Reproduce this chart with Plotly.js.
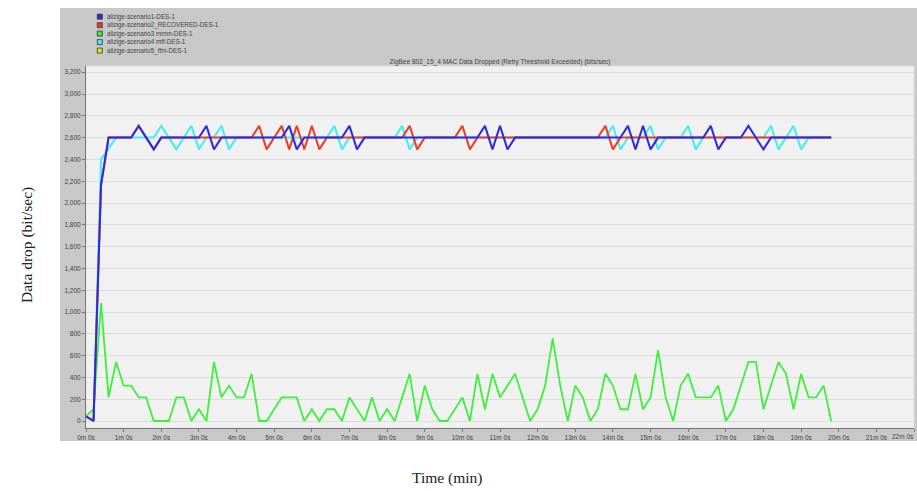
<!DOCTYPE html>
<html><head><meta charset="utf-8">
<script src="https://cdn.plot.ly/plotly-3.0.1.min.js"></script>
<style>html,body{margin:0;padding:0;background:#fff;} #chart{width:917px;height:491px;}</style>
</head><body><div id="chart"></div>
<script>
// ---- data ----
const seriesNames = ["alizige-scenario1-DES-1", "alizige-scenario2_RECOVERED-DES-1", "alizige-scenario3 mmm-DES-1", "alizige-scenario4 mff-DES-1", "alizige-scenario5_ffm-DES-1"];
const seriesColors = ["#2b2be6", "#f03c24", "#3cf03c", "#44eef0", "#e6e600"];

const timeMin = [0,0.2,0.4,0.6,0.8,1,1.2,1.4,1.6,1.8,2,2.2,2.4,2.6,2.8,3,3.2,3.4,3.6,3.8,
4,4.2,4.4,4.6,4.8,5,5.2,5.4,5.6,5.8,6,6.2,6.4,6.6,6.8,7,7.2,7.4,7.6,7.8,
8,8.2,8.4,8.6,8.8,9,9.2,9.4,9.6,9.8,10,10.2,10.4,10.6,10.8,11,11.2,11.4,11.6,11.8,
12,12.2,12.4,12.6,12.8,13,13.2,13.4,13.6,13.8,14,14.2,14.4,14.6,14.8,15,15.2,15.4,15.6,15.8,
16,16.2,16.4,16.6,16.8,17,17.2,17.4,17.6,17.8,18,18.2,18.4,18.6,18.8,19,19.2,19.4,19.6,19.8];

const scenario1 = [43,0,2167,2600,2600,2600,2600,2708,2600,2492,
2600,2600,2600,2600,2600,2600,2708,2492,2600,2600,
2600,2600,2600,2600,2600,2600,2600,2708,2492,2600,
2600,2600,2600,2600,2600,2708,2492,2600,2600,2600,
2600,2600,2600,2600,2600,2600,2600,2600,2600,2600,
2600,2600,2600,2708,2492,2708,2492,2600,2600,2600,
2600,2600,2600,2600,2600,2600,2600,2600,2600,2600,
2600,2600,2708,2492,2708,2492,2600,2600,2600,2600,
2600,2600,2600,2708,2492,2600,2600,2600,2708,2600,
2492,2600,2600,2600,2600,2600,2600,2600,2600,2600];

const scenario2 = [43,0,2167,2600,2600,2600,2600,2708,2600,2492,
2600,2600,2600,2600,2600,2600,2600,2600,2600,2600,
2600,2600,2600,2708,2492,2600,2708,2492,2708,2492,
2708,2492,2600,2600,2600,2600,2600,2600,2600,2600,
2600,2600,2600,2708,2492,2600,2600,2600,2600,2600,
2708,2492,2600,2600,2600,2600,2600,2600,2600,2600,
2600,2600,2600,2600,2600,2600,2600,2600,2600,2708,
2492,2600,2600,2600,2600,2600,2600,2600,2600,2600,
2600,2600,2600,2600,2600,2600,2600,2600,2600,2600,
2600,2600,2600,2600,2600,2600,2600,2600,2600,2600];

const scenario3 = [43,108,1083,217,542,325,325,217,217,0,
0,0,217,217,0,108,0,542,217,325,
217,217,433,0,0,108,217,217,217,0,
108,0,108,108,0,217,108,0,217,0,
108,0,217,433,0,325,108,0,0,108,
217,0,433,108,433,217,325,433,217,0,
108,325,758,325,0,325,217,0,108,433,
325,108,108,433,108,217,650,217,0,325,
433,217,217,217,325,0,108,325,542,542,
108,325,542,433,108,433,217,217,325,0];

const scenario4 = [43,0,2400,2500,2600,2600,2600,2600,2600,2600,
2708,2600,2492,2600,2708,2492,2600,2600,2708,2492,
2600,2600,2600,2600,2600,2600,2600,2600,2600,2600,
2600,2600,2600,2708,2492,2600,2600,2600,2600,2600,
2600,2600,2708,2492,2600,2600,2600,2600,2600,2600,
2600,2600,2600,2600,2600,2600,2600,2600,2600,2600,
2600,2600,2600,2600,2600,2600,2600,2600,2600,2600,
2708,2492,2600,2600,2600,2708,2492,2600,2600,2600,
2708,2492,2600,2600,2600,2600,2600,2600,2600,2600,
2600,2708,2492,2600,2708,2492,2600,2600,2600,2600];

const scenario5 = []; // not visible in the chart

const xTickVals = [0,1,2,3,4,5,6,7,8,9,10,11,12,13,14,15,16,17,18,19,20,21,22];
const xTickText = ["0m 0s","1m 0s","2m 0s","3m 0s","4m 0s","5m 0s","6m 0s","7m 0s","8m 0s","9m 0s","10m 0s","11m 0s","12m 0s","13m 0s","14m 0s","15m 0s","16m 0s","17m 0s","18m 0s","19m 0s","20m 0s","21m 0s","22m 0s"];
const yTickVals = [0,200,400,600,800,1000,1200,1400,1600,1800,2000,2200,2400,2600,2800,3000,3200];

const chartTitle = "ZigBee 802_15_4 MAC Data Dropped (Retry Threshold Exceeded) (bits/sec)";
const yTitle = "Data drop (bit/sec)";
const xTitle = "Time (min)";

// ---- layout geometry (pixels) ----
const W = 917, H = 491;
const ml = 86, mr = 3, mt = 66, mb = 63;
const pw = W - ml - mr, ph = H - mt - mb;
const px = v => (v - ml) / pw;
const py = v => (H - mb - v) / ph;

const seriesVals = [scenario1, scenario2, scenario3, scenario4, scenario5];
const drawOrder = [4, 3, 2, 1, 0]; // scenario1 on top
const traces = drawOrder.map(k => ({
  type: 'scatter', mode: 'lines',
  x: seriesVals[k].length ? timeMin.slice(0, seriesVals[k].length) : [],
  y: seriesVals[k],
  name: seriesNames[k],
  line: {color: seriesColors[k], width: k === 2 ? 1.8 : 2},
  hoverinfo: 'skip', showlegend: false
}));

const shapes = [
  {type:'rect', xref:'paper', yref:'paper', x0:px(60), x1:px(917), y0:py(441), y1:py(8), fillcolor:'#c8c8c8', line:{width:0}, layer:'below'},
  {type:'rect', xref:'paper', yref:'paper', x0:0, x1:1, y0:0, y1:1, fillcolor:'#f1f1f1', line:{color:'#dedede', width:1}, layer:'below'}
];
const annotations = [];
const legendRowsY = [16.7, 25.2, 33.6, 42.1, 50.6];
seriesNames.forEach((nm, k) => {
  const yc = legendRowsY[k];
  shapes.push({type:'rect', xref:'paper', yref:'paper', x0:px(97.3), x1:px(102.3), y0:py(yc+2.5), y1:py(yc-2.5),
    fillcolor: seriesColors[k], line:{color:'#333', width:0.8}, layer:'above'});
  annotations.push({xref:'paper', yref:'paper', x:px(105), y:py(yc), xanchor:'left', yanchor:'middle',
    text: nm, showarrow:false, font:{family:'Liberation Sans, Arial', size:6.3, color:'#444'}});
});
annotations.push({xref:'paper', yref:'paper', x:px(27), y:py(245), xanchor:'center', yanchor:'middle', textangle:-90,
  text: yTitle, showarrow:false, font:{family:'Liberation Serif, Times New Roman, serif', size:15.5, color:'#222'}});
annotations.push({xref:'paper', yref:'paper', x:px(447), y:py(478), xanchor:'center', yanchor:'middle',
  text: xTitle, showarrow:false, font:{family:'Liberation Serif, Times New Roman, serif', size:15.5, color:'#222'}});

// last x tick label is drawn right-aligned so it stays inside the picture
const lastIdx = xTickText.length - 1;
const shownTickText = xTickText.map((t, i) => i === lastIdx ? '' : t);
const tickFont = {family:'Liberation Sans, Arial', size:6.5, color:'#444'};
annotations.push({xref:'paper', yref:'paper', x:px(916), y:py(436.5), xanchor:'right', yanchor:'middle',
  text: xTickText[lastIdx], showarrow:false, font:tickFont});

const layout = {
  width: W, height: H,
  margin: {l: ml, r: mr, t: mt, b: mb, pad: 0},
  paper_bgcolor: '#ffffff', plot_bgcolor: 'rgba(0,0,0,0)',
  showlegend: false,
  title: {text: chartTitle, font: {family:'Liberation Sans, Arial', size:6.5, color:'#444'},
    xref:'paper', x:0.5, xanchor:'center', yref:'container', y: 1 - 61.5/H, yanchor:'middle'},
  xaxis: {range:[0, 22], tickmode:'array', tickvals:xTickVals, ticktext:shownTickText,
    showgrid:false, zeroline:false, showline:true, linecolor:'#7a7a7a', linewidth:1,
    ticks:'outside', ticklen:3, tickcolor:'#7a7a7a', tickfont:tickFont, fixedrange:true},
  yaxis: {range:[-64, 3257], tickmode:'array', tickvals:yTickVals, tickformat:',d',
    showgrid:true, gridcolor:'#dcdcdc', gridwidth:1, zeroline:false, showline:true, linecolor:'#7a7a7a', linewidth:1,
    ticks:'outside', ticklen:3, tickcolor:'#7a7a7a', tickfont:tickFont, fixedrange:true},
  shapes: shapes,
  annotations: annotations
};
Plotly.newPlot('chart', traces, layout, {staticPlot:true, displayModeBar:false});
</script></body></html>
